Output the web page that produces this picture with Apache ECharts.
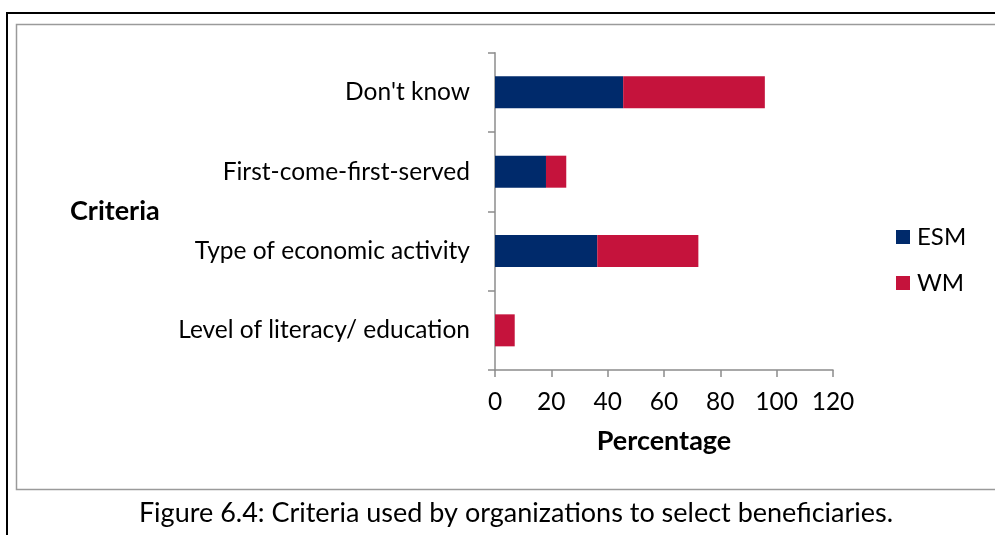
<!DOCTYPE html>
<html>
<head>
<meta charset="utf-8">
<script src="https://cdn.jsdelivr.net/npm/echarts@6/dist/echarts.min.js"></script>
<style>
  html, body { margin: 0; padding: 0; background: #fff; }
  #chart { width: 995px; height: 535px; }
</style>
</head>
<body>
<div id="chart"></div>
<script>
// Selection criteria, listed top to bottom
const categories = ['Don\'t know', 'First-come-first-served', 'Type of economic activity', 'Level of literacy/ education'];
const esmValues = [45.5, 18.1, 36.3, 0];
const wmValues = [50.3, 7.2, 35.9, 7.0];
const xTicks = { min: 0, max: 120, interval: 20 };

const FONT = 'Lato, "Open Sans", sans-serif';
const AXIS_GRAY = '#8c8c8c';

const chart = echarts.init(document.getElementById('chart'), null, { renderer: 'canvas' });

chart.setOption({
  backgroundColor: '#ffffff',
  animation: false,
  textStyle: { fontFamily: FONT, color: '#000' },
  title: {
    text: 'Figure 6.4: Criteria used by organizations to select beneficiaries.',
    left: 511, top: 495, textAlign: 'center',
    textStyle: { fontFamily: FONT, fontSize: 27, fontWeight: 'normal', color: '#000' }
  },
  grid: { left: 495, right: 162, top: 52.7, bottom: 165, containLabel: false },
  legend: {
    orient: 'vertical',
    left: 891, top: 220,
    itemWidth: 14, itemHeight: 14, itemGap: 22,
    icon: 'rect',
    textStyle: { fontFamily: FONT, fontSize: 24, color: '#000', padding: [0, 0, 0, 2] },
    data: ['ESM', 'WM']
  },
  xAxis: {
    type: 'value',
    min: xTicks.min, max: xTicks.max, interval: xTicks.interval,
    name: 'Percentage',
    nameLocation: 'middle', nameGap: 58,
    nameTextStyle: { fontFamily: FONT, fontSize: 27, fontWeight: 'bold', color: '#000' },
    axisLine: { show: true, lineStyle: { color: AXIS_GRAY, width: 1.5 } },
    axisTick: { show: true, length: 7, lineStyle: { color: AXIS_GRAY, width: 1.5 } },
    axisLabel: { fontFamily: FONT, fontSize: 24.5, color: '#000', margin: 20 },
    splitLine: { show: false }
  },
  yAxis: {
    type: 'category',
    inverse: true,
    data: categories,
    axisLine: { show: true, lineStyle: { color: AXIS_GRAY, width: 1.5 } },
    axisTick: { show: true, length: 7, alignWithLabel: false, lineStyle: { color: AXIS_GRAY, width: 1.5 } },
    axisLabel: { fontFamily: FONT, fontSize: 24.5, color: '#000', margin: 25 }
  },
  series: [
    {
      name: 'ESM', type: 'bar', stack: 'total', barWidth: 32,
      itemStyle: { color: '#002A6B' },
      data: esmValues
    },
    {
      name: 'WM', type: 'bar', stack: 'total', barWidth: 32,
      itemStyle: { color: '#C5133C' },
      data: wmValues
    }
  ],
  graphic: [
    // outer page frame
    { type: 'polyline', silent: true, shape: { points: [[7, 535], [7, 13], [1000, 13]] },
      style: { stroke: '#000', lineWidth: 2, fill: null } },
    // chart area frame
    { type: 'rect', silent: true, shape: { x: 16.5, y: 24.5, width: 1000, height: 465 },
      style: { stroke: '#9a9a9a', lineWidth: 1.5, fill: null } },
    // vertical axis title
    { type: 'text', left: 70, top: 198,
      style: { text: 'Criteria', fontFamily: FONT, fontSize: 27, fontWeight: 'bold', fill: '#000' } }
  ]
});
</script>
</body>
</html>
